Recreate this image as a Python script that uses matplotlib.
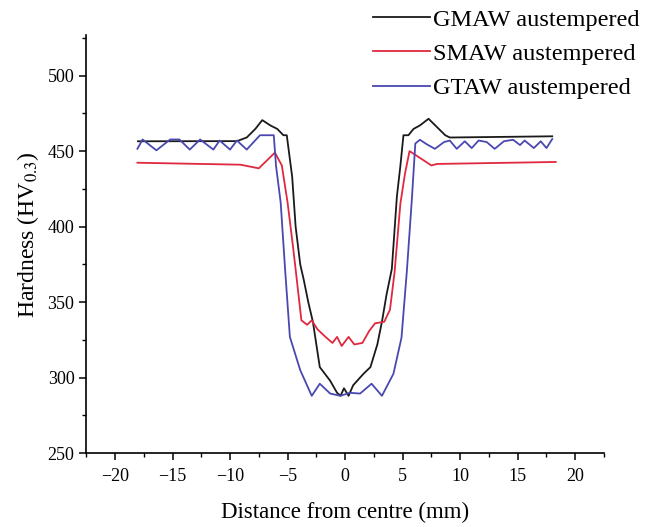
import matplotlib
matplotlib.use("Agg")
import matplotlib.pyplot as plt
from matplotlib.ticker import MultipleLocator

# hardness traverse across the weld
gmaw_x = [-18.0, -9.4, -8.55, -7.8, -7.2, -6.5, -5.9, -5.36, -5.07, -4.6, -4.3,
          -3.9, -3.6, -3.2, -2.8, -2.2, -1.3, -0.7, -0.4, -0.1, 0.3, 0.7, 1.6,
          2.2, 2.8, 3.2, 3.6, 4.06, 4.5, 4.8, 5.07, 5.5, 5.95, 6.5, 7.25, 7.97,
          8.7, 9.1, 18.0]
gmaw_hv = [456.5, 456.6, 459, 464.7, 470.5, 467, 464.7, 460.5, 460.5, 433, 400,
           375, 365, 350, 337, 307, 298, 290, 288, 293, 288, 295, 302.6,
           307, 322, 337, 355, 372, 420, 440, 460.5, 460.5, 464.7, 467, 471.4, 466,
           460.5, 459, 459.8]

smaw_x = [-18.05, -9.1, -7.5, -6.1, -5.5, -5.0, -4.5, -4.2, -3.8, -3.3, -2.9,
          -2.4, -1.7, -1.1, -0.7, -0.3, 0.3, 0.8, 1.5, 2.1, 2.6, 3.4, 3.9, 4.3,
          4.8, 5.2, 5.6, 6.0, 6.8, 7.5, 8.0, 18.3]
smaw_hv = [442.3, 441, 438.6, 449, 440.5, 416, 385, 365, 338, 335, 338,
           332, 327, 323, 327, 321, 327, 322, 323, 331, 336, 337, 345, 370,
           415, 435, 450, 448, 444, 440.5, 441.5, 442.8]

gtaw_x = [-18.05, -17.6, -16.4, -15.2, -14.4, -13.5, -12.6, -11.45, -10.9, -10.0,
          -9.4, -8.55, -7.4, -6.2, -6.0, -5.6, -5.2, -4.8, -3.9, -2.9, -2.2, -1.3,
          -0.4, 0.4, 1.3, 2.3, 3.2, 4.2, 4.9, 5.36, 5.8, 6.1, 6.5, 7.1, 7.8, 8.6,
          9.1, 9.7, 10.4, 11.0, 11.6, 12.3, 13.0, 13.8, 14.6, 15.2, 15.6, 16.4,
          17.0, 17.5, 18.0]
gtaw_hv = [451.5, 457.7, 450.5, 457.7, 457.7, 451, 457.7, 451, 457, 451,
           457, 451, 460.5, 460.5, 440, 416, 370, 327, 305, 288, 296, 289.5,
           288, 290, 289.5, 296, 288, 302.6, 326.5, 370, 418, 455, 457.5, 454.5, 451.5, 456,
           457, 451.5, 456.5, 452, 457, 456, 451.5, 456.5, 457.5, 454, 457, 452,
           456.5, 452, 458]

series = [
    ("GMAW austempered", gmaw_x, gmaw_hv, "#1a1a1a"),
    ("SMAW austempered", smaw_x, smaw_hv, "#e0283f"),
    ("GTAW austempered", gtaw_x, gtaw_hv, "#4a48b0"),
]

plt.rcParams["font.family"] = ["Liberation Serif", "DejaVu Serif"]
plt.rcParams["mathtext.fontset"] = "stix"

fig = plt.figure(figsize=(6.53, 5.27), dpi=100)
ax = fig.add_axes([0.132, 0.140, 0.793, 0.794])

for label, xs, ys, color in series:
    ax.plot(xs, ys, color=color, lw=1.3, label=label)

ax.set_xlim(-22.5, 22.5)
ax.set_ylim(250, 527)
ax.xaxis.set_major_locator(MultipleLocator(5))
ax.xaxis.set_minor_locator(MultipleLocator(2.5))
ax.yaxis.set_major_locator(MultipleLocator(50))
ax.yaxis.set_minor_locator(MultipleLocator(25))
ax.tick_params(which="major", length=5, width=1.1, labelsize=13, direction="out")
ax.tick_params(axis="x", which="major", pad=6)
ax.tick_params(which="minor", length=3, width=1.0, direction="out")
for side in ("top", "right"):
    ax.spines[side].set_visible(False)
for side in ("left", "bottom"):
    ax.spines[side].set_linewidth(1.2)

ax.set_xlabel("Distance from centre (mm)", fontsize=16.5, labelpad=12)
ax.set_ylabel(r"Hardness (HV$_{0.3}$)", fontsize=17)
ax.yaxis.set_label_coords(-0.088, 0.522)

fig.legend(loc="upper left", bbox_to_anchor=(0.538, 1.025),
           bbox_transform=fig.transFigure, frameon=False, fontsize=17.5,
           handlelength=2.35, handletextpad=0.1, labelspacing=0.5)

fig.savefig("out.png", dpi=100, facecolor="white")
